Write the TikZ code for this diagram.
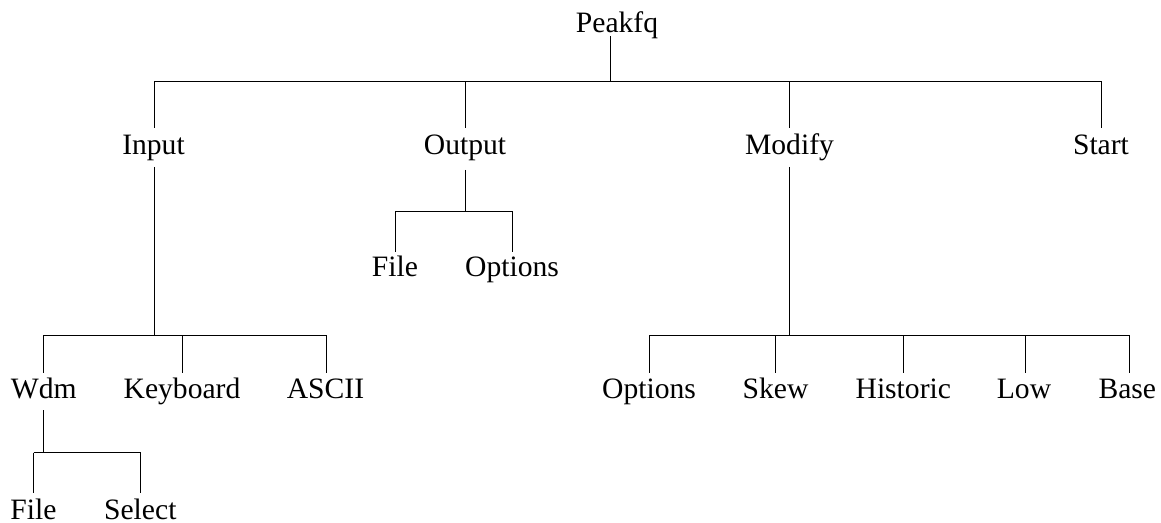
\documentclass[tikz,border=0pt]{standalone}
\usepackage{fontspec}
\setmainfont{Liberation Serif}
\begin{document}
\begin{tikzpicture}[x=0.5pt,y=-0.5pt,
  lbl/.style={anchor=base,inner sep=0pt,font=\fontsize{14.8}{17}\selectfont},
  edge/.style={line width=0.6pt,black}]
\useasboundingbox (0,0) rectangle (1161,523);
% nodes
\node[lbl] (peak) at (617,33) {Peakfq};
\node[lbl] (input) at (153.5,155) {Input};
\node[lbl] (output) at (465,155) {Output};
\node[lbl] (modify) at (789.5,155) {Modify};
\node[lbl] (start) at (1101,155) {Start};
\node[lbl] (ofile) at (395,277) {File};
\node[lbl] (oopt) at (512,277) {Options};
\node[lbl] (wdm) at (43.7,398.5) {Wdm};
\node[lbl] (keyb) at (182,398.5) {Keyboard};
\node[lbl] (ascii) at (325.5,398.5) {ASCII};
\node[lbl] (mopt) at (649,398.5) {Options};
\node[lbl] (skew) at (775.5,398.5) {Skew};
\node[lbl] (hist) at (903.3,398.5) {Historic};
\node[lbl] (low) at (1024,398.5) {Low};
\node[lbl] (base) at (1127.3,398.5) {Base};
\node[lbl] (wfile) at (33.5,519) {File};
\node[lbl] (wsel) at (140.3,519) {Select};
% connection points
\coordinate (peak-b) at (610.5,36);
\coordinate (j0) at (610.5,81.5);
\coordinate (input-t) at (154.5,128);
\coordinate (output-t) at (465.5,128);
\coordinate (modify-t) at (789.5,128);
\coordinate (start-t) at (1101.5,128);
\coordinate (input-b) at (154.5,167);
\coordinate (j1) at (154.5,335.5);
\coordinate (output-b) at (465.5,170);
\coordinate (j2) at (465.5,211.5);
\coordinate (modify-b) at (789.5,167);
\coordinate (j3) at (789.5,335.5);
\coordinate (wdm-b) at (43.5,410);
\coordinate (j4) at (43.5,452.5);
\coordinate (ofile-t) at (395.5,252);
\coordinate (oopt-t) at (512.5,252);
\coordinate (wdm-t) at (43.5,373);
\coordinate (keyb-t) at (182.5,373);
\coordinate (ascii-t) at (326.5,373);
\coordinate (mopt-t) at (649.5,373);
\coordinate (skew-t) at (775.5,373);
\coordinate (hist-t) at (903.5,373);
\coordinate (low-t) at (1025.5,373);
\coordinate (base-t) at (1129.5,373);
\coordinate (wfile-t) at (33.5,493);
\coordinate (wsel-t) at (140.5,493);
% level 1
\draw[edge] (peak-b) -- (j0);
\draw[edge] (input-t |- j0) -- (start-t |- j0);
\foreach \n in {input,output,modify,start} \draw[edge] (\n-t |- j0) -- (\n-t);
% Input
\draw[edge] (input-b) -- (j1);
\draw[edge] (wdm-t |- j1) -- (ascii-t |- j1);
\foreach \n in {wdm,keyb,ascii} \draw[edge] (\n-t |- j1) -- (\n-t);
% Output
\draw[edge] (output-b) -- (j2);
\draw[edge] (ofile-t |- j2) -- (oopt-t |- j2);
\foreach \n in {ofile,oopt} \draw[edge] (\n-t |- j2) -- (\n-t);
% Modify
\draw[edge] (modify-b) -- (j3);
\draw[edge] (mopt-t |- j3) -- (base-t |- j3);
\foreach \n in {mopt,skew,hist,low,base} \draw[edge] (\n-t |- j3) -- (\n-t);
% Wdm
\draw[edge] (wdm-b) -- (j4);
\draw[edge] (wfile-t |- j4) -- (wsel-t |- j4);
\foreach \n in {wfile,wsel} \draw[edge] (\n-t |- j4) -- (\n-t);
\end{tikzpicture}
\end{document}
